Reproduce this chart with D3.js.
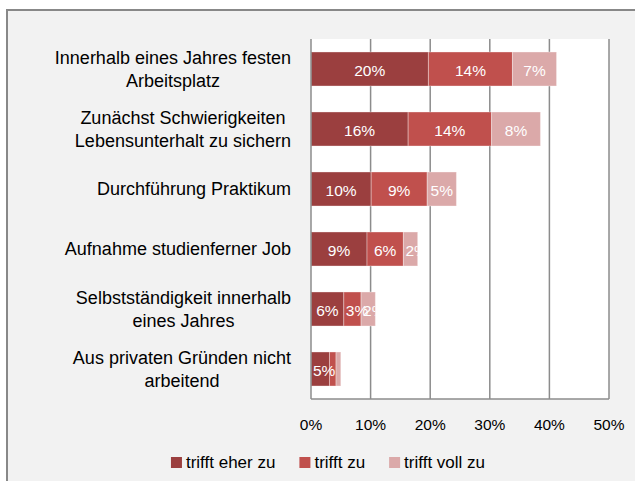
<!DOCTYPE html>
<html>
<head>
<meta charset="utf-8">
<script src="https://cdn.jsdelivr.net/npm/d3@7"></script>
<style>
  body { margin: 0; background: #fff; }
  text { font-family: "Liberation Sans", Arial, sans-serif; }
</style>
</head>
<body>
<div id="chart"></div>
<script>
// categories, one entry per bar (line breaks as in the original)
var categories = [
	"Innerhalb eines Jahres festen\nArbeitsplatz",
	"Zunächst Schwierigkeiten\nLebensunterhalt zu sichern",
	"Durchführung Praktikum",
	"Aufnahme studienferner Job",
	"Selbstständigkeit innerhalb\neines Jahres",
	"Aus privaten Gründen nicht\narbeitend"
];
var seriesNames = ["trifft eher zu", "trifft zu", "trifft voll zu"];

// percent values
var eherZu = [19.7, 16.3, 10.1, 9.4, 5.5, 3.1];
var zu     = [14.1, 14.0, 9.4, 6.1, 2.9, 1.1];
var vollZu = [7.4, 8.2, 4.9, 2.4, 2.4, 0.8];

// data labels as printed in the chart
var eherZuLabels = ["20%", "16%", "10%", "9%", "6%", "5%"];
var zuLabels     = ["14%", "14%", "9%", "6%", "3%", ""];
var vollZuLabels = ["7%", "8%", "5%", "2%", "2%", ""];

var xTicks = [0, 10, 20, 30, 40, 50];

var colors = ["#9b3f3f", "#c0504d", "#dba9a9"];

var W = 635, H = 481;
var plot = { left: 311, right: 609, top: 39, bottom: 399 };

var svg = d3.select("#chart").append("svg")
	.attr("width", W)
	.attr("height", H);

// chart frame (runs past the right and bottom edge of the picture)
svg.append("rect")
	.attr("x", 7).attr("y", 10)
	.attr("width", 660).attr("height", 500)
	.attr("fill", "#f2f2f2")
	.attr("stroke", "#888")
	.attr("stroke-width", 2);

var x = d3.scaleLinear()
	.domain([0, 50])
	.range([plot.left, plot.right]);

var y = d3.scaleBand()
	.domain(categories)
	.range([plot.top, plot.bottom])
	.paddingInner(0.433)
	.paddingOuter(0.2165);

svg.append("rect")
	.attr("x", plot.left).attr("y", plot.top)
	.attr("width", plot.right - plot.left)
	.attr("height", plot.bottom - plot.top)
	.attr("fill", "#fff");

// vertical gridlines
svg.selectAll(".grid")
	.data(xTicks.slice(1))
	.enter().append("line")
	.attr("class", "grid")
	.attr("x1", d => x(d)).attr("x2", d => x(d))
	.attr("y1", plot.top).attr("y2", plot.bottom)
	.attr("stroke", "#8c8c8c")
	.attr("stroke-width", 1.5);

// stack the three series
var rows = categories.map(function(c, i) {
	return { cat: c, vals: [eherZu[i], zu[i], vollZu[i]], labels: [eherZuLabels[i], zuLabels[i], vollZuLabels[i]] };
});
var stack = d3.stack()
	.keys([0, 1, 2])
	.value((d, k) => d.vals[k]);
var layers = stack(rows);

var defs = svg.append("defs");
rows.forEach(function(r, i) {
	var total = d3.sum(r.vals);
	defs.append("clipPath").attr("id", "clip" + i)
		.append("rect")
		.attr("x", x(0)).attr("y", y(r.cat))
		.attr("width", x(total) - x(0))
		.attr("height", y.bandwidth());
});

var layerG = svg.selectAll(".layer")
	.data(layers)
	.enter().append("g")
	.attr("class", "layer")
	.attr("fill", (d, i) => colors[i]);

layerG.selectAll("rect")
	.data(d => d)
	.enter().append("rect")
	.attr("x", d => x(d[0]))
	.attr("y", d => y(d.data.cat))
	.attr("width", d => x(d[1]) - x(d[0]))
	.attr("height", y.bandwidth())
	.attr("stroke", "#fff")
	.attr("stroke-opacity", 0.35)
	.attr("stroke-width", 1);

// data labels, centred in each segment but never left of its start
layers.forEach(function(layer, k) {
	layer.forEach(function(d, i) {
		var txt = d.data.labels[k];
		if (!txt) return;
		var t = svg.append("text")
			.attr("clip-path", "url(#clip" + i + ")")
			.attr("y", y(d.data.cat) + y.bandwidth() / 2 + 7)
			.attr("fill", "#fff")
			.attr("font-size", "15.5px")
			.text(txt);
		var w = t.node().getComputedTextLength();
		var cx = (x(d[0]) + x(d[1])) / 2;
		t.attr("x", Math.max(cx - w / 2, x(d[0]) + 2));
	});
});

// axis line and bottom border
svg.append("line")
	.attr("x1", plot.left).attr("x2", plot.left)
	.attr("y1", plot.top).attr("y2", plot.bottom)
	.attr("stroke", "#8c8c8c").attr("stroke-width", 1.5);
svg.append("line")
	.attr("x1", plot.left).attr("x2", plot.right)
	.attr("y1", plot.bottom).attr("y2", plot.bottom)
	.attr("stroke", "#8c8c8c").attr("stroke-width", 1.5);

// x tick labels
svg.selectAll(".tick")
	.data(xTicks)
	.enter().append("text")
	.attr("class", "tick")
	.attr("x", d => x(d))
	.attr("y", 430)
	.attr("text-anchor", "middle")
	.attr("font-size", "15.5px")
	.attr("fill", "#000")
	.text(d => d + "%");

// category labels: centred lines, block right-aligned next to the axis
var lineH = 23;
categories.forEach(function(c) {
	var lines = c.split("\n");
	var g = svg.append("g");
	var cy = y(c) + y.bandwidth() / 2;
	var texts = lines.map(function(l, j) {
		return g.append("text")
			.attr("y", cy - (lines.length - 1) * lineH / 2 + j * lineH + 6)
			.attr("text-anchor", "middle")
			.attr("font-size", "18px")
			.attr("fill", "#000")
			.text(l);
	});
	var maxW = d3.max(texts, t => t.node().getComputedTextLength());
	texts.forEach(t => t.attr("x", 291 - maxW / 2));
});

// legend
var legend = svg.append("g");
var lx = 0;
seriesNames.forEach(function(name, i) {
	var it = legend.append("g").attr("transform", "translate(" + lx + ",0)");
	it.append("rect")
		.attr("x", 0).attr("y", 457)
		.attr("width", 11).attr("height", 11)
		.attr("fill", colors[i]);
	var t = it.append("text")
		.attr("x", 15).attr("y", 468)
		.attr("font-size", "17px")
		.attr("fill", "#000")
		.text(name);
	lx += 15 + t.node().getComputedTextLength() + 24;
});
var legendW = lx - 24;
legend.attr("transform", "translate(" + (328 - legendW / 2) + ",0)");
</script>
</body>
</html>
